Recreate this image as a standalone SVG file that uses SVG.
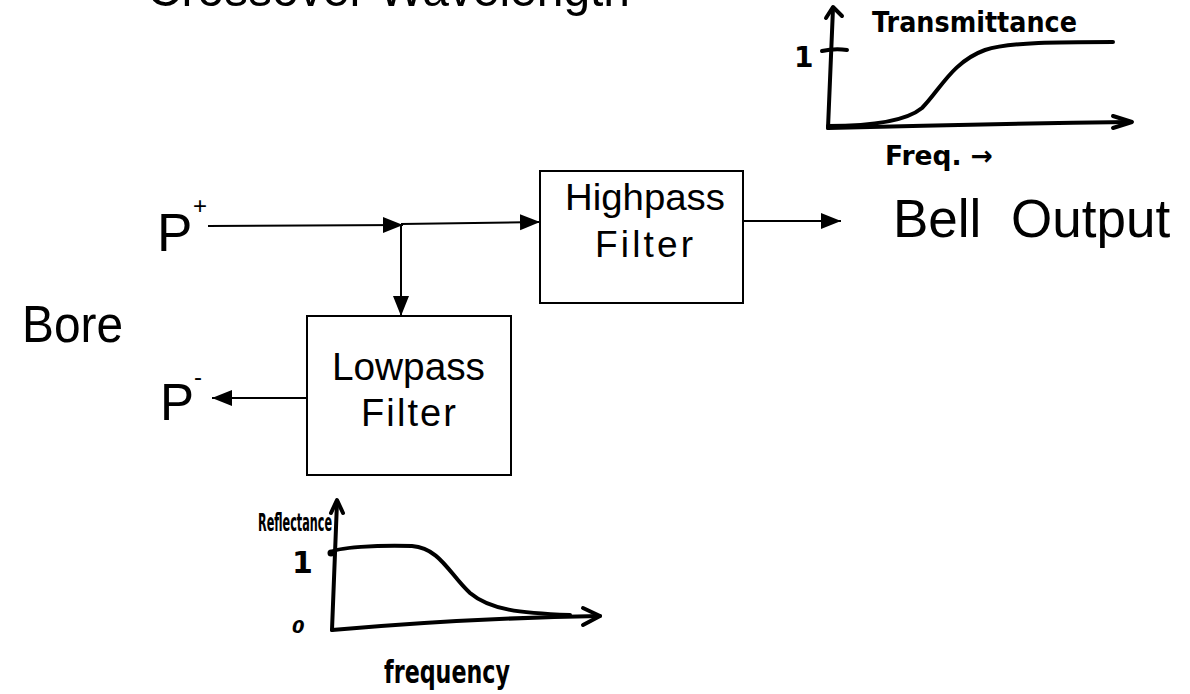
<svg xmlns="http://www.w3.org/2000/svg" width="1190" height="694" viewBox="0 0 1190 694">
<defs>
<style>
.lbl{font-family:"Liberation Sans",Arial,sans-serif;fill:#000}
.hand{font-family:"DejaVu Sans","Liberation Sans",sans-serif;font-weight:bold;fill:#000}
.box{fill:#fff;stroke:#000;stroke-width:2}
.conn{fill:none;stroke:#000;stroke-width:2}
.plot{fill:none;stroke:#000;stroke-width:4;stroke-linecap:round;stroke-linejoin:round}
</style>
<marker id="arr" markerUnits="userSpaceOnUse" markerWidth="22" markerHeight="18" refX="20" refY="8" orient="auto">
<path d="M0,0 L20,8 L0,16 z" fill="#000"/>
</marker>
</defs>
<rect width="1190" height="694" fill="#fff"/>

<text class="lbl" x="147" y="6" font-size="50" textLength="483" lengthAdjust="spacingAndGlyphs">Crossover Wavelength</text>

<g id="connectors">
<path class="conn" d="M208,226 L403,225" marker-end="url(#arr)"/>
<path class="conn" d="M401,224 L540,222" marker-end="url(#arr)"/>
<path class="conn" d="M401,225 L401,316" marker-end="url(#arr)"/>
<path class="conn" d="M307,398 L212,398" marker-end="url(#arr)"/>
<path class="conn" d="M743,221 L841,221" marker-end="url(#arr)"/>
</g>

<g id="pplus">
<text class="lbl" x="157" y="251" font-size="53">P</text>
<text class="lbl" x="193" y="214" font-size="24">+</text>
</g>

<g id="pminus">
<text class="lbl" x="160" y="420" font-size="51">P</text>
<text class="lbl" x="194" y="385" font-size="24">-</text>
</g>

<g id="bore">
<text class="lbl" x="22" y="342" font-size="52" textLength="101" lengthAdjust="spacingAndGlyphs">Bore</text>
</g>

<g id="highpass">
<rect class="box" x="540" y="171" width="203" height="132"/>
<text class="lbl" x="565" y="210" font-size="37" textLength="160" lengthAdjust="spacingAndGlyphs">Highpass</text>
<text class="lbl" x="595" y="257" font-size="37" textLength="98" lengthAdjust="spacing">Filter</text>
</g>

<g id="lowpass">
<rect class="box" x="307" y="316" width="204" height="159"/>
<text class="lbl" x="332" y="380" font-size="38" textLength="153" lengthAdjust="spacingAndGlyphs">Lowpass</text>
<text class="lbl" x="361" y="426" font-size="38" textLength="95" lengthAdjust="spacing">Filter</text>
</g>

<g id="bell">
<text class="lbl" x="893" y="237" font-size="53">Bell<tspan x="1011">Output</tspan></text>
</g>

<g id="transmittance-plot">
<path class="plot" d="M828,128 L833,8"/>
<path class="plot" d="M826,18 L833,7 L842,16"/>
<path class="plot" d="M822,51 Q835,48 847,50"/>
<path class="plot" d="M828,128 Q980,124 1130,122"/>
<path class="plot" d="M1113,116 L1132,122 L1113,128"/>
<path class="plot" d="M828,126 C870,126 905,122 922,108 C940,90 952,62 985,50 C1010,42 1060,42 1113,42"/>
<text class="hand" x="794" y="67" font-size="28">1</text>
<text class="hand" x="872" y="32" font-size="28" textLength="205" lengthAdjust="spacingAndGlyphs">Transmittance</text>
<text class="hand" x="885" y="165" font-size="27" textLength="108" lengthAdjust="spacingAndGlyphs">Freq. →</text>
</g>

<g id="reflectance-plot">
<path class="plot" d="M332,630 L337,502"/>
<path class="plot" d="M331,513 L337,500 L343,513"/>
<path class="plot" d="M332,630 Q470,618 600,616"/>
<path class="plot" d="M583,608 L600,616 L583,625"/>
<path class="plot" d="M330,553 C335,547 380,545 412,546 C440,548 450,575 470,593 C490,610 520,613 570,615"/>
<circle cx="331" cy="553" r="3.5" fill="#000"/>
<text class="hand" x="258" y="531" font-size="25" textLength="74" lengthAdjust="spacingAndGlyphs">Reflectance</text>
<text class="hand" x="292" y="573" font-size="30">1</text>
<text class="hand" x="292" y="633" font-size="18" font-style="italic">0</text>
<text class="hand" x="384" y="683" font-size="32" textLength="126" lengthAdjust="spacingAndGlyphs">frequency</text>
</g>
</svg>
